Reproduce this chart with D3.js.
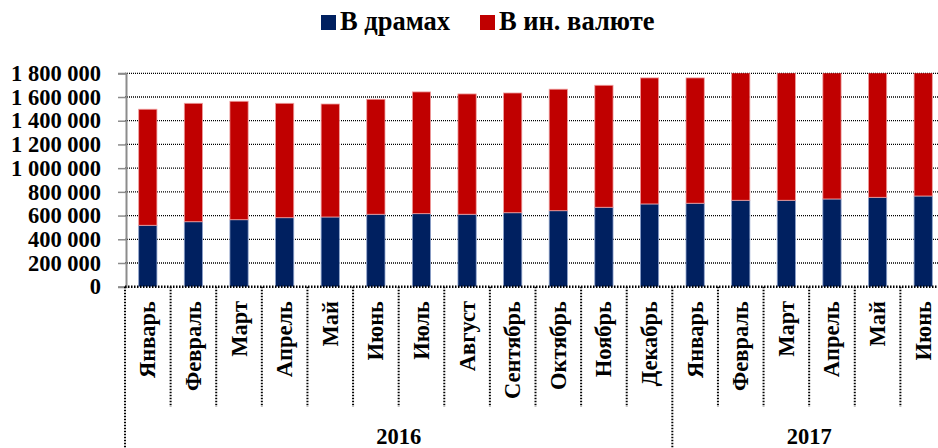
<!DOCTYPE html>
<html lang="ru">
<head>
  <meta charset="UTF-8">
  <title>Депозиты</title>
  <script src="https://d3js.org/d3.v7.min.js"></script>
  <style>
    body { margin: 0; background: #fff; }
    text { font-family: "Liberation Serif", "DejaVu Serif", serif; font-weight: bold; fill: #000; }
  </style>
</head>
<body>
  <svg width="938" height="448"></svg>

  <script>
    // Months (x categories) and which year each block belongs to
    const months = ["Январь", "Февраль", "Март", "Апрель", "Май", "Июнь", "Июль", "Август",
      "Сентябрь", "Октябрь", "Ноябрь", "Декабрь", "Январь", "Февраль", "Март", "Апрель", "Май", "Июнь"];
    const years = ["2016", "2017"];
    const monthsPerYear = [12, 6];

    // Series values
    const drams = [518000, 548000, 565000, 582000, 588000, 611000, 616000, 611000, 624000,
      641000, 670000, 698000, 704000, 729000, 729000, 740000, 754000, 765000];
    const foreign = [979000, 999000, 999000, 965000, 953000, 970000, 1027000, 1015000, 1010000,
      1025000, 1029000, 1063000, 1057000, 1091000, 1101000, 1110000, 1116000, 1115000];

    const seriesNames = ["В драмах", "В ин. валюте"];
    const yTicks = [0, 200000, 400000, 600000, 800000, 1000000, 1200000, 1400000, 1600000, 1800000];

    const colors = ["#002060", "#C00000"];
    const borders = ["#8fa3cc", "#f0a0a0"];
    const serif = "'Liberation Serif', 'DejaVu Serif', serif";

    const svg = d3.select("svg");
    const plotLeft = 125, plotRight = 946, plotTop = 73.3, plotBottom = 286.7;

    const data = months.map((m, i) => ({ key: i, month: m, drams: drams[i], foreign: foreign[i] }));

    const x = d3.scaleBand()
      .domain(data.map(d => d.key))
      .range([plotLeft, plotRight])
      .paddingInner(0.6)
      .paddingOuter(0.3);

    const y = d3.scaleLinear()
      .domain([0, 1800000])
      .range([plotBottom, plotTop]);

    const fmt = d3.formatLocale({ decimal: ",", thousands: "\u00a0", grouping: [3], currency: ["", ""] }).format(",");

    // clip for bars running past the top of the axis
    svg.append("defs").append("clipPath").attr("id", "plot")
      .append("rect").attr("x", plotLeft).attr("y", plotTop)
      .attr("width", plotRight - plotLeft).attr("height", plotBottom - plotTop);

    // gridlines
    svg.append("g")
      .selectAll("line")
      .data(yTicks.filter(t => t > 0))
      .enter().append("line")
      .attr("x1", plotLeft).attr("x2", 938)
      .attr("y1", d => y(d)).attr("y2", d => y(d))
      .attr("stroke", "#000")
      .attr("stroke-width", 1.3)
      .attr("stroke-dasharray", "1,1");

    // stacked bars
    const stack = d3.stack().keys(["drams", "foreign"]);
    const layers = stack(data);

    svg.append("g")
      .attr("clip-path", "url(#plot)")
      .selectAll("g")
      .data(layers)
      .enter().append("g")
      .attr("fill", (d, i) => colors[i])
      .attr("stroke", (d, i) => borders[i])
      .attr("stroke-width", 0.8)
      .selectAll("rect")
      .data(d => d)
      .enter().append("rect")
      .attr("x", d => x(d.data.key))
      .attr("y", d => y(d[1]))
      .attr("width", x.bandwidth())
      .attr("height", d => y(d[0]) - y(d[1]));

    // y axis
    const yAxis = svg.append("g")
      .attr("transform", "translate(" + (plotLeft + 1) + ",0)")
      .call(d3.axisLeft(y).tickValues(yTicks).tickFormat(fmt).tickSize(8).tickPadding(17));
    yAxis.attr("font-family", serif);
    yAxis.select(".domain").attr("stroke", "#8c8c8c").attr("stroke-width", 2);
    yAxis.selectAll(".tick line").attr("stroke", "#8c8c8c").attr("stroke-width", 1.5);
    yAxis.selectAll(".tick text")
      .attr("font-size", 22.5)
      .attr("font-weight", "bold")
      .attr("fill", "#000");

    // x axis line (dotted)
    svg.append("line")
      .attr("x1", plotLeft).attr("x2", 938)
      .attr("y1", plotBottom).attr("y2", plotBottom)
      .attr("stroke", "#000")
      .attr("stroke-width", 2.5)
      .attr("stroke-dasharray", "1.5,1.5");

    // month separators
    const step = x.step();
    const bounds = d3.range(months.length + 1).map(i => plotLeft + i * step);
    const yearStarts = [0];
    monthsPerYear.forEach((n, i) => yearStarts.push(yearStarts[i] + n));

    svg.append("g")
      .selectAll("line")
      .data(bounds)
      .enter().append("line")
      .attr("x1", d => d).attr("x2", d => d)
      .attr("y1", plotBottom)
      .attr("y2", (d, i) => yearStarts.includes(i) ? 448 : 407)
      .attr("stroke", "#000")
      .attr("stroke-width", 2)
      .attr("stroke-dasharray", "1.5,1.5");

    // month labels (rotated)
    svg.append("g")
      .selectAll("text")
      .data(data)
      .enter().append("text")
      .attr("transform", d => "translate(" + (x(d.key) + x.bandwidth() / 2 + 7.5) + ",301) rotate(-90)")
      .attr("text-anchor", "end")
      .attr("font-size", 22.5)
      .text(d => d.month);

    // year labels
    svg.append("g")
      .selectAll("text")
      .data(years)
      .enter().append("text")
      .attr("x", (d, i) => (bounds[yearStarts[i]] + bounds[yearStarts[i + 1]]) / 2)
      .attr("y", 444)
      .attr("text-anchor", "middle")
      .attr("font-size", 22.5)
      .text(d => d);

    // legend
    const legendX = [321, 480];
    const legend = svg.append("g")
      .selectAll("g")
      .data(seriesNames)
      .enter().append("g")
      .attr("transform", (d, i) => "translate(" + legendX[i] + ",15)");
    legend.append("rect")
      .attr("width", 15).attr("height", 15)
      .attr("fill", (d, i) => colors[i]);
    legend.append("text")
      .attr("x", 19).attr("y", 15)
      .attr("font-size", 26.5)
      .text(d => d);
  </script>
</body>
</html>
